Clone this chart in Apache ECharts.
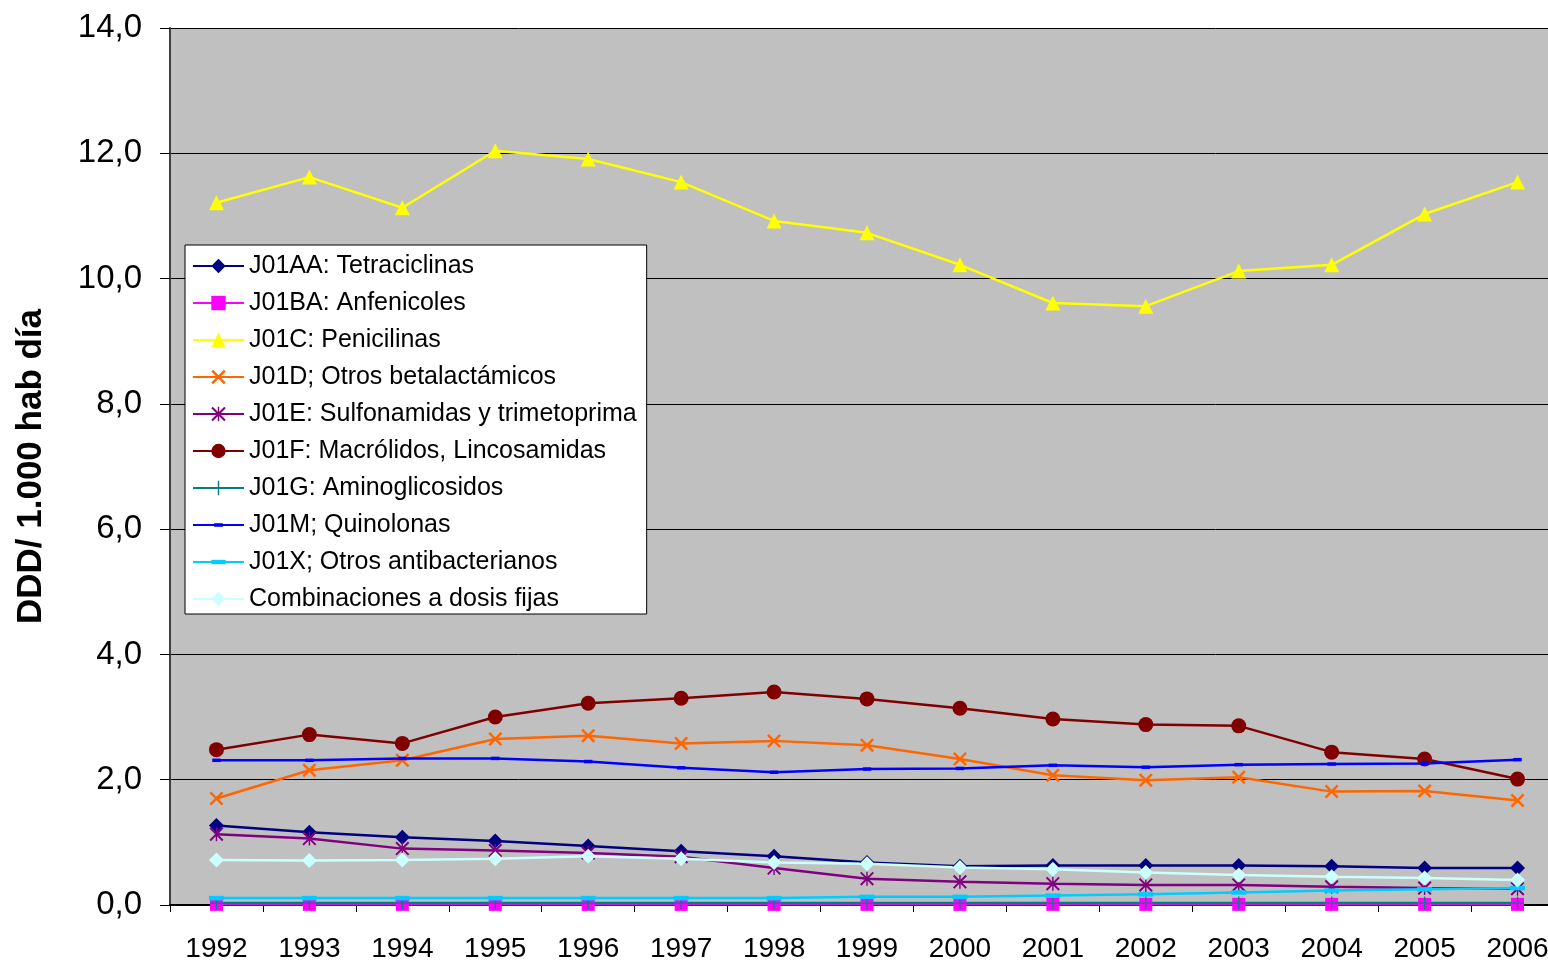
<!DOCTYPE html>
<html>
<head>
<meta charset="utf-8">
<title>Consumo de antibacterianos 1992-2006</title>
<script src="https://cdn.jsdelivr.net/npm/echarts@6/dist/echarts.min.js"></script>
<style>
  html, body { margin: 0; padding: 0; background: #ffffff; overflow: hidden; }
  /* the plot runs a little past the right edge of the window */
  #chart { width: 1564px; height: 965px; }
</style>
</head>
<body>
<div id="chart"></div>
<script>
// Years on the category axis
const years = ['1992', '1993', '1994', '1995', '1996', '1997', '1998', '1999',
               '2000', '2001', '2002', '2003', '2004', '2005', '2006'];

// Value-axis tick labels (decimal comma)
const yTickLabels = ['0,0', '2,0', '4,0', '6,0', '8,0', '10,0', '12,0', '14,0'];

// DDD per 1.000 inhabitants per day, by therapeutic group
const tetraciclinas   = [1.27, 1.16, 1.08, 1.02, 0.94, 0.86, 0.78, 0.68, 0.62, 0.63, 0.63, 0.63, 0.62, 0.59, 0.59];
const anfenicoles     = [0.01, 0.01, 0.01, 0.01, 0.01, 0.01, 0.01, 0.01, 0.01, 0.01, 0.01, 0.01, 0.01, 0.01, 0.01];
const penicilinas     = [11.21, 11.62, 11.13, 12.04, 11.91, 11.54, 10.92, 10.73, 10.22, 9.61, 9.56, 10.12, 10.22, 11.03, 11.54];
const betalactamicos  = [1.70, 2.15, 2.31, 2.65, 2.70, 2.58, 2.62, 2.55, 2.33, 2.07, 1.99, 2.04, 1.81, 1.82, 1.67];
const sulfonamidas    = [1.13, 1.06, 0.90, 0.87, 0.83, 0.77, 0.59, 0.42, 0.37, 0.34, 0.32, 0.32, 0.29, 0.27, 0.26];
const macrolidos      = [2.48, 2.72, 2.58, 3.00, 3.22, 3.30, 3.40, 3.29, 3.14, 2.97, 2.88, 2.86, 2.44, 2.33, 2.01];
const aminoglicosidos = [0.03, 0.03, 0.03, 0.03, 0.03, 0.03, 0.03, 0.03, 0.03, 0.03, 0.03, 0.03, 0.03, 0.03, 0.03];
const quinolonas      = [2.31, 2.31, 2.34, 2.34, 2.29, 2.19, 2.12, 2.17, 2.18, 2.23, 2.20, 2.24, 2.25, 2.26, 2.32];
const otrosAntibac    = [0.11, 0.11, 0.11, 0.11, 0.11, 0.11, 0.11, 0.13, 0.13, 0.15, 0.17, 0.20, 0.23, 0.25, 0.27];
const combinaciones   = [0.72, 0.71, 0.72, 0.74, 0.78, 0.74, 0.68, 0.66, 0.60, 0.57, 0.52, 0.48, 0.45, 0.43, 0.40];

// Marker shapes built from filled polygons
const SYM_X = 'path://M0,2.5L2.5,0L20,17.5L17.5,20Z M17.5,0L20,2.5L2.5,20L0,17.5Z';
const SYM_STAR = 'path://M0,2L2,0L20,18L18,20Z M18,0L20,2L2,20L0,18Z M9,0L11,0L11,20L9,20Z';
const SYM_PLUS = 'path://M9,0L11,0L11,9L20,9L20,11L11,11L11,20L9,20L9,11L0,11L0,9L9,9Z';
const SYM_DASH_SMALL = 'path://M0,0M20,20M4,7.5L16,7.5L16,12.5L4,12.5Z';
const SYM_DASH_WIDE = 'path://M0,0M20,20M0,7L20,7L20,13L0,13Z';

const FONT = '"Liberation Sans", Arial, Helvetica, sans-serif';

function lineSeries(name, data, color, symbol, size) {
  return {
    name: name,
    type: 'line',
    data: data,
    symbol: symbol,
    symbolSize: size,
    showAllSymbol: true,
    lineStyle: { color: color, width: 2.5 },
    itemStyle: { color: color, borderWidth: 0 },
    emphasis: { disabled: true }
  };
}

const series = [
  lineSeries('J01AA: Tetraciclinas', tetraciclinas, '#000080', 'diamond', 15),
  lineSeries('J01BA: Anfenicoles', anfenicoles, '#FF00FF', 'rect', 13),
  lineSeries('J01C: Penicilinas', penicilinas, '#FFFF00', 'triangle', 15),
  lineSeries('J01D; Otros betalactámicos', betalactamicos, '#FF6600', SYM_X, 14),
  lineSeries('J01E: Sulfonamidas y trimetoprima', sulfonamidas, '#800080', SYM_STAR, 14),
  lineSeries('J01F: Macrólidos, Lincosamidas', macrolidos, '#800000', 'circle', 15),
  lineSeries('J01G: Aminoglicosidos', aminoglicosidos, '#008080', SYM_PLUS, 13),
  lineSeries('J01M; Quinolonas', quinolonas, '#0000FF', SYM_DASH_SMALL, 14),
  lineSeries('J01X; Otros antibacterianos', otrosAntibac, '#00CCFF', SYM_DASH_WIDE, 15),
  lineSeries('Combinaciones a dosis fijas', combinaciones, '#CCFFFF', 'diamond', 15)
];

const chart = echarts.init(document.getElementById('chart'), null, { renderer: 'canvas' });

chart.setOption({
  animation: false,
  backgroundColor: '#ffffff',
  textStyle: { fontFamily: FONT },
  grid: {
    left: 170,
    top: 28,
    right: 0,
    bottom: 60,
    show: true,
    backgroundColor: '#C0C0C0',
    borderWidth: 0,
    containLabel: false
  },
  legend: {
    orient: 'vertical',
    left: 185,
    top: 245,
    padding: [8, 10, 2, 7],
    backgroundColor: '#ffffff',
    borderColor: '#000000',
    borderWidth: 1,
    borderRadius: 0,
    itemWidth: 51,
    itemHeight: 18,
    itemGap: 11,
    selectedMode: false,
    textStyle: { fontFamily: FONT, fontSize: 25, color: '#000000', lineHeight: 26 },
    data: series.map(s => s.name)
  },
  xAxis: {
    type: 'category',
    data: years,
    boundaryGap: true,
    axisLine: { show: true, lineStyle: { color: '#000000', width: 2 } },
    axisTick: { show: true, alignWithLabel: false, length: 7, lineStyle: { color: '#000000', width: 1 } },
    axisLabel: { interval: 0, margin: 30, fontSize: 28, color: '#000000', fontFamily: FONT },
    splitLine: { show: false }
  },
  yAxis: {
    type: 'value',
    min: 0,
    max: 14,
    interval: 2,
    name: 'DDD/ 1.000 hab día',
    nameLocation: 'middle',
    nameGap: 121,
    nameTextStyle: { fontFamily: FONT, fontSize: 35, fontWeight: 'bold', color: '#000000' },
    axisLine: { show: true, lineStyle: { color: '#404040', width: 2 } },
    axisTick: { show: true, length: 10, lineStyle: { color: '#000000', width: 1 } },
    axisLabel: {
      margin: 28,
      fontSize: 33,
      color: '#000000',
      fontFamily: FONT,
      formatter: function (v) { return yTickLabels[Math.round(v / 2)]; }
    },
    splitLine: { show: true, lineStyle: { color: '#000000', width: 1 } }
  },
  series: series
});
</script>
</body>
</html>
